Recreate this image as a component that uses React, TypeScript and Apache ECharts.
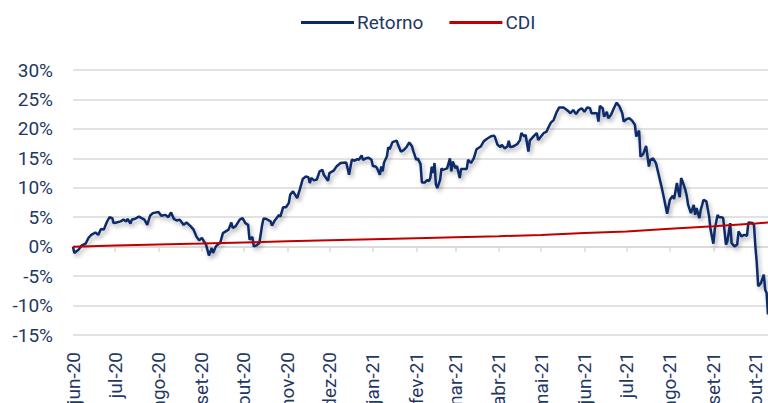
import React, { useEffect, useRef } from 'react';
import * as echarts from 'echarts';

const START_YEAR = 2020;
const START_MONTH = 5; // June (0-based)
const LAST_DAY_OFFSET = 496; // ~10 Oct 2021
const monthNames = ['jan', 'fev', 'mar', 'abr', 'mai', 'jun', 'jul', 'ago', 'set', 'out', 'nov', 'dez'];
const seriesNames = ['Retorno', 'CDI'];
const yMin = -15;
const yMax = 30;
const yStep = 5;

// [day offset from 2020-06-01, return %]
const retorno: [number, number][] = [
  [0, 0], [1, -1.07], [4, -0.5], [6, 0.17], [9, 0.5], [11, 1.47], [13, 2.0], [16, 2.4], [18, 2.0], [20, 3.0],
  [22, 2.9], [24, 4.1], [26, 5.0], [28, 4.85], [29, 4.0], [31, 4.1], [34, 4.3], [36, 4.6], [38, 4.3], [39, 4.7],
  [41, 3.9], [42, 4.6], [44, 4.7], [47, 5.1], [49, 4.85], [51, 4.6], [53, 3.7], [55, 5.25], [57, 5.7], [61, 5.9],
  [63, 5.25], [66, 5.4], [68, 5.0], [70, 5.8], [72, 4.7], [74, 4.45], [76, 4.6], [79, 3.7], [81, 4.1], [84, 3.45],
  [86, 2.9], [88, 1.75], [90, 1.07], [92, 1.5], [95, 0.3], [97, -1.5], [99, -0.23], [100, -1.07], [102, 0.05], [104, 0.5],
  [105, 0.6], [107, 2.3], [109, 2.6], [111, 2.9], [113, 4.1], [114, 3.17], [116, 3.45], [119, 4.6], [121, 4.85], [123, 4.0],
  [125, 3.7], [126, 1.2], [128, 1.64], [129, 0.05], [131, 0.22], [133, 0.63], [135, 3.7], [136, 4.8], [138, 4.7], [141, 4.3],
  [142, 3.56], [144, 4.45], [145, 4.75], [147, 5.4], [148, 5.1], [150, 6.7], [152, 6.7], [154, 7.4], [155, 8.8], [157, 9.4],
  [160, 8.25], [162, 9.8], [164, 11.5], [166, 11.9], [168, 11.8], [169, 10.8], [170, 11.65], [172, 11.25], [174, 11.4], [176, 12.8],
  [178, 13.05], [179, 12.2], [182, 11.2], [183, 12.5], [186, 12.9], [188, 13.6], [191, 14.2], [195, 14.3], [197, 12.2], [199, 14.75],
  [201, 14.6], [203, 14.85], [204, 14.75], [206, 15.5], [207, 14.75], [209, 15.0], [211, 15.1], [213, 14.75], [214, 13.7], [216, 13.6],
  [217, 13.3], [219, 12.2], [220, 13.6], [221, 12.8], [222, 14.3], [224, 15.3], [225, 16.9], [226, 16.55], [228, 17.75], [231, 18.0],
  [232, 17.3], [234, 16.15], [236, 16.4], [238, 16.9], [240, 17.7], [242, 17.0], [243, 16.15], [245, 14.75], [246, 15.0], [248, 14.05],
  [249, 10.9], [251, 10.9], [253, 11.35], [254, 11.1], [255, 11.65], [256, 13.6], [257, 12.5], [258, 14.2], [259, 10.5], [260, 9.95],
  [262, 11.35], [263, 13.3], [264, 13.05], [267, 13.3], [269, 15.0], [270, 12.8], [271, 14.45], [273, 13.3], [274, 13.7], [276, 11.65],
  [277, 13.2], [281, 13.2], [282, 14.75], [284, 14.2], [286, 15.0], [288, 16.55], [291, 17.0], [293, 17.85], [295, 18.25], [298, 18.7],
  [300, 18.85], [301, 18.7], [303, 17.3], [305, 16.9], [306, 17.3], [308, 16.7], [310, 17.0], [311, 18.0], [312, 16.9], [314, 17.0],
  [317, 17.4], [319, 18.1], [320, 19.3], [322, 18.7], [323, 19.0], [325, 16.15], [326, 18.0], [329, 18.8], [331, 19.3], [332, 18.1],
  [334, 18.7], [336, 19.3], [338, 19.55], [339, 20.1], [341, 21.05], [343, 21.5], [345, 22.75], [347, 23.65], [350, 23.65], [352, 23.3],
  [354, 22.9], [355, 22.65], [357, 23.2], [359, 22.5], [361, 23.2], [363, 23.5], [365, 22.9], [367, 23.65], [369, 23.5], [370, 22.65],
  [373, 22.65], [374, 22.65], [375, 21.25], [376, 23.9], [378, 23.5], [379, 22.1], [381, 22.9], [382, 21.8], [384, 22.4], [386, 23.5],
  [388, 24.45], [390, 23.8], [392, 22.65], [393, 21.25], [395, 21.65], [397, 21.8], [399, 21.4], [401, 20.7], [402, 18.7], [404, 19.7],
  [405, 15.3], [407, 15.75], [409, 17.1], [411, 13.6], [412, 14.75], [414, 15.0], [416, 14.2], [418, 12.2], [420, 10.2], [422, 7.97],
  [424, 5.6], [426, 7.97], [428, 8.65], [429, 8.1], [431, 10.8], [432, 9.4], [433, 8.4], [434, 11.65], [435, 11.1], [437, 9.65],
  [438, 8.65], [439, 7.1], [441, 5.7], [443, 7.1], [444, 5.4], [445, 6.55], [447, 4.85], [448, 6.25], [449, 7.1], [450, 7.97],
  [452, 7.7], [454, 5.1], [455, 2.9], [457, 0.5], [458, 2.9], [460, 5.4], [461, 5.0], [463, 5.0], [464, 4.85], [466, 0.34],
  [467, 0.9], [469, 4.0], [470, 0.63], [472, 0.05], [474, 0.34], [475, 2.6], [477, 1.75], [479, 2.0], [481, 1.86], [482, 4.1],
  [485, 4.0], [486, 3.7], [487, 0.05], [488, -2.76], [489, -6.73], [491, -6.15], [493, -4.75], [494, -7.3], [495, -7.85], [496, -11.5],
];

// [day offset from 2020-06-01, accumulated CDI %]
const cdi: [number, number][] = [
  [0, 0], [30, 0.18], [61, 0.36], [92, 0.54], [122, 0.72], [153, 0.9], [183, 1.08], [214, 1.25], [245, 1.43],
  [273, 1.59], [304, 1.78], [334, 2.0], [365, 2.3], [395, 2.59], [426, 3.03], [457, 3.47], [487, 3.95], [496, 4.1],
];

function buildDays(): string[] {
  const start = Date.UTC(START_YEAR, START_MONTH, 1);
  const out: string[] = [];
  for (let i = 0; i <= LAST_DAY_OFFSET; i++) {
    out.push(new Date(start + i * 86400000).toISOString().slice(0, 10));
  }
  return out;
}

const TEXT = '#1f3864';
const GRID = '#d9d9d9';
const FONT = 'Roboto, "Open Sans", sans-serif';

export default function App() {
  const ref = useRef<HTMLDivElement>(null);
  useEffect(() => {
    if (!ref.current) return;
    const chart = echarts.init(ref.current, undefined, { renderer: 'svg' });
    const days = buildDays();
    const isMonthStart = (_i: number, v: string) => v.slice(8, 10) === '01';
    const fmt = (v: string) => monthNames[parseInt(v.slice(5, 7), 10) - 1] + '-' + v.slice(2, 4);
    chart.setOption({
      animation: false,
      backgroundColor: '#ffffff',
      textStyle: { fontFamily: FONT },
      legend: {
        data: seriesNames,
        icon: 'rect',
        left: 296,
        top: 8,
        itemWidth: 53,
        itemHeight: 3,
        itemGap: 26,
        textStyle: { color: TEXT, fontSize: 19, fontFamily: FONT, padding: [0, 0, 0, -2] },
      },
      grid: { left: 73, right: 0, top: 70, bottom: 68, containLabel: false, outerBoundsMode: 'none' },
      xAxis: [
        {
          type: 'category',
          data: days,
          boundaryGap: false,
          position: 'bottom',
          axisLine: { show: true, onZero: true, lineStyle: { color: GRID, width: 1.5 } },
          axisTick: { show: true, interval: isMonthStart, length: 5, lineStyle: { color: GRID, width: 1.5 } },
          axisLabel: { show: false },
          splitLine: { show: false },
        },
        {
          type: 'category',
          data: days,
          boundaryGap: false,
          position: 'bottom',
          axisLine: { show: false, onZero: false },
          axisTick: { show: false },
          axisLabel: {
            show: true,
            interval: isMonthStart,
            rotate: 90,
            margin: 17,
            color: TEXT,
            fontSize: 19,
            fontFamily: FONT,
            formatter: fmt,
          },
          splitLine: { show: false },
        },
      ],
      yAxis: {
        type: 'value',
        min: yMin,
        max: yMax,
        interval: yStep,
        axisLine: { show: false },
        axisTick: { show: false },
        axisLabel: { formatter: '{value}%', color: TEXT, fontSize: 19, fontFamily: FONT, margin: 20 },
        splitLine: { show: true, lineStyle: { color: GRID, width: 1.5 } },
      },
      series: [
        {
          name: seriesNames[0],
          type: 'line',
          xAxisIndex: 0,
          data: retorno,
          symbol: 'none',
          showSymbol: false,
          lineStyle: {
            color: '#0b2a6b',
            width: 2.5,
            shadowColor: 'rgba(0,0,0,0.3)',
            shadowBlur: 4,
            shadowOffsetX: 2,
            shadowOffsetY: 3,
          },
          itemStyle: { color: '#0b2a6b' },
          z: 3,
        },
        {
          name: seriesNames[1],
          type: 'line',
          xAxisIndex: 0,
          data: cdi,
          symbol: 'none',
          showSymbol: false,
          lineStyle: { color: '#c00000', width: 2 },
          itemStyle: { color: '#c00000' },
          z: 4,
        },
      ],
    });
    return () => chart.dispose();
  }, []);
  return (
    <div
      ref={ref}
      style={{ position: 'fixed', left: 0, top: 0, width: 768, height: 403, background: '#fff' }}
    />
  );
}
